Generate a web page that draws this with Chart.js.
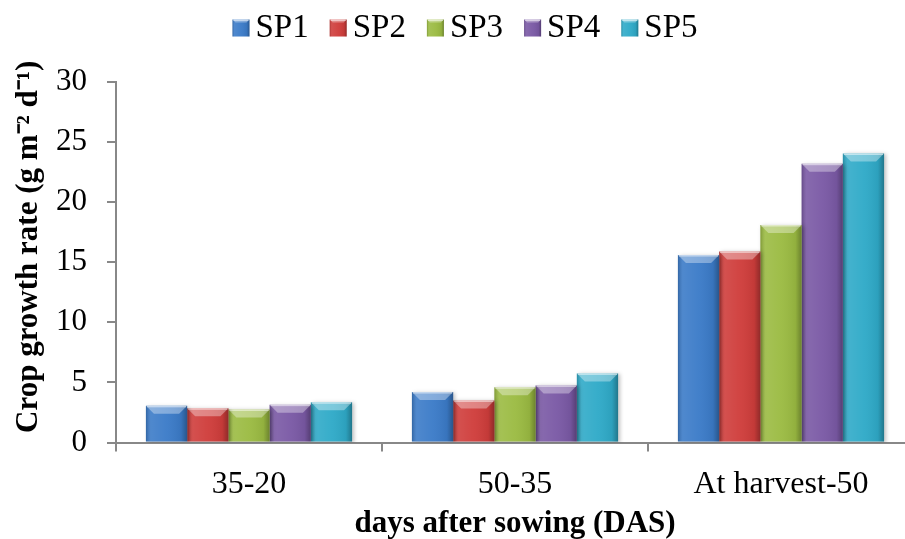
<!DOCTYPE html>
<html>
<head>
<meta charset="utf-8">
<script src="https://cdn.jsdelivr.net/npm/chart.js@4/dist/chart.umd.min.js"></script>
<style>
  html, body { margin: 0; padding: 0; background: #fff; overflow: hidden; }
  #wrap { width: 930px; height: 539px; }
</style>
</head>
<body>
<div id="wrap"><canvas id="c" width="930" height="539"></canvas></div>
<script>
// Crop growth rate by growth interval for five treatments
const categories = ['35-20', '50-35', 'At harvest-50'];
const seriesNames = ['SP1', 'SP2', 'SP3', 'SP4', 'SP5'];
const sp1 = [3.05, 4.2, 15.6];
const sp2 = [2.85, 3.5, 15.9];
const sp3 = [2.75, 4.6, 18.1];
const sp4 = [3.15, 4.75, 23.2];
const sp5 = [3.35, 5.75, 24.05];
const yTicks = [0, 5, 10, 15, 20, 25, 30];

const colors = ['#3b7bc8', '#cf3d3b', '#9bbb42', '#7a59a5', '#2faac8'];
const values = [sp1, sp2, sp3, sp4, sp5];

const serif = "'Liberation Serif', 'Times New Roman', serif";

// Shading for a bevelled rectangle: side gradient plus light top facet
function shadeBox(ctx, l, t, w, h, depth) {
  const r = l + w;
  const g = ctx.createLinearGradient(l, 0, r, 0);
  g.addColorStop(0, 'rgba(0,0,0,0.18)');
  g.addColorStop(0.12, 'rgba(255,255,255,0.10)');
  g.addColorStop(0.5, 'rgba(255,255,255,0.04)');
  g.addColorStop(0.85, 'rgba(0,0,0,0.06)');
  g.addColorStop(1, 'rgba(0,0,0,0.30)');
  ctx.fillStyle = g;
  ctx.fillRect(l, t, w, h);
  const d = Math.min(depth, h / 2);
  ctx.beginPath();
  ctx.moveTo(l, t);
  ctx.lineTo(r, t);
  ctx.lineTo(r - d, t + d);
  ctx.lineTo(l + d, t + d);
  ctx.closePath();
  ctx.fillStyle = 'rgba(255,255,255,0.35)';
  ctx.fill();
  ctx.fillStyle = 'rgba(255,255,255,0.5)';
  ctx.fillRect(l + 1, t, w - 2, 1.5);
}

const bevel = {
  id: 'bevel',
  beforeDatasetDraw(chart) {
    const ctx = chart.ctx;
    ctx.save();
    ctx.shadowColor = 'rgba(0,0,0,0.25)';
    ctx.shadowBlur = 4;
    ctx.shadowOffsetX = 2;
    ctx.shadowOffsetY = 1;
  },
  afterDatasetDraw(chart, args) {
    const ctx = chart.ctx;
    ctx.restore();
    args.meta.data.forEach(bar => {
      ctx.save();
      shadeBox(ctx, bar.x - bar.width / 2, bar.y, bar.width, bar.base - bar.y, 8);
      ctx.restore();
    });
  }
};

// Legend row above the plot: box, short gap, label
const topLegend = {
  id: 'topLegend',
  afterDraw(chart) {
    const ctx = chart.ctx;
    const box = 17, gapText = 6, gapItem = 21, midY = 27;
    ctx.save();
    ctx.font = '33px ' + serif;
    ctx.textBaseline = 'middle';
    ctx.textAlign = 'left';
    const items = chart.data.datasets.map(ds => ({
      label: ds.label, color: ds.backgroundColor, w: ctx.measureText(ds.label).width
    }));
    const total = items.reduce((s, it) => s + box + gapText + it.w, 0) + gapItem * (items.length - 1);
    let x = chart.width / 2 - total / 2;
    items.forEach(it => {
      const top = midY - box / 2 + 1;
      ctx.fillStyle = it.color;
      ctx.fillRect(x, top, box, box);
      shadeBox(ctx, x, top, box, box, 3);
      ctx.fillStyle = '#000';
      ctx.fillText(it.label, x + box + gapText, midY + 1);
      x += box + gapText + it.w + gapItem;
    });
    ctx.restore();
  }
};

new Chart(document.getElementById('c'), {
  type: 'bar',
  data: {
    labels: categories,
    datasets: seriesNames.map((name, i) => ({
      label: name,
      data: values[i],
      backgroundColor: colors[i],
      borderWidth: 0,
      categoryPercentage: 0.775,
      barPercentage: 1.0
    }))
  },
  options: {
    responsive: false,
    animation: false,
    layout: { padding: { top: 82, right: 16, bottom: 0, left: 0 } },
    plugins: {
      legend: { display: false },
      tooltip: { enabled: false }
    },
    scales: {
      x: {
        grid: { drawOnChartArea: false, offset: true, tickLength: 9, color: '#888', lineWidth: 2 },
        border: { color: '#888', width: 2 },
        ticks: { font: { family: serif, size: 32 }, color: '#000', padding: 14 },
        title: { display: true, text: 'days after sowing (DAS)', font: { family: serif, size: 31, weight: 'bold', lineHeight: 1 }, color: '#000', padding: { top: 0, bottom: 0 } },
        afterFit(scale) { scale.height = 96.5; }
      },
      y: {
        min: 0,
        max: 30,
        afterBuildTicks(scale) { scale.ticks = yTicks.map(v => ({ value: v })); },
        grid: { drawOnChartArea: false, tickLength: 9, color: '#888', lineWidth: 2 },
        border: { color: '#888', width: 2 },
        ticks: { font: { family: serif, size: 31 }, color: '#000', padding: 20 },
        title: { display: true, text: '\u2003Crop growth rate (g m\u207B\u00B2 d\u207B\u00B9)', font: { family: serif, size: 31, weight: 'bold' }, color: '#000', padding: { top: 10, bottom: 0 } },
        afterFit(scale) { scale.width = 116; }
      }
    }
  },
  plugins: [bevel, topLegend]
});
</script>
</body>
</html>
